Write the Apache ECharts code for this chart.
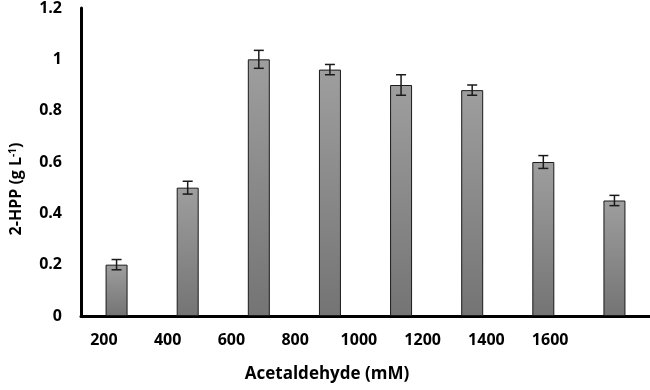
<!DOCTYPE html>
<html>
<head>
<meta charset="utf-8">
<script src="https://cdn.jsdelivr.net/npm/echarts@6/dist/echarts.min.js"></script>
<style>
  html, body { margin: 0; padding: 0; background: #fff; }
  #chart { width: 650px; height: 390px; }
</style>
</head>
<body>
<div id="chart"></div>
<script>
// Acetaldehyde concentrations (mM)
var categories = ['200', '400', '600', '800', '1000', '1200', '1400', '1600'];
// 2-HPP titre (g/L) and its error
var hppValues = [0.20, 0.50, 1.00, 0.96, 0.90, 0.88, 0.60, 0.45];
var hppErrors = [0.02, 0.025, 0.035, 0.02, 0.04, 0.02, 0.025, 0.02];
var yTicks = { min: 0, max: 1.2, interval: 0.2 };

var chartDom = document.getElementById('chart');
var myChart = echarts.init(chartDom);

var errorData = hppValues.map(function (v, i) {
    return [i, v - hppErrors[i], v + hppErrors[i]];
});

var FONT = "'Open Sans', 'DejaVu Sans', sans-serif";

function renderErrorBar(params, api) {
    var lo = api.coord([api.value(0), api.value(1)]);
    var hi = api.coord([api.value(0), api.value(2)]);
    var half = 5;
    var style = { stroke: '#1a1a1a', lineWidth: 1.5 };
    return {
        type: 'group',
        children: [
            { type: 'line', shape: { x1: hi[0], y1: hi[1], x2: lo[0], y2: lo[1] }, style: style },
            { type: 'line', shape: { x1: hi[0] - half, y1: hi[1], x2: hi[0] + half, y2: hi[1] }, style: style },
            { type: 'line', shape: { x1: lo[0] - half, y1: lo[1], x2: lo[0] + half, y2: lo[1] }, style: style }
        ]
    };
}

var option = {
    animation: false,
    backgroundColor: '#fff',
    grid: [
        { left: 80, right: 0, top: 4, bottom: 74 },
        // labels in the source sit on a slightly narrower band than the bars
        { left: 72, right: 68, top: 4, bottom: 74 }
    ],
    xAxis: [
        {
            type: 'category',
            gridIndex: 0,
            data: categories,
            axisLine: { lineStyle: { color: '#000', width: 3 } },
            axisTick: { show: false },
            axisLabel: { show: false }
        },
        {
            type: 'category',
            gridIndex: 1,
            data: categories,
            axisLine: { show: false },
            axisTick: { show: false },
            axisLabel: { margin: 16, color: '#000', fontFamily: FONT, fontWeight: 'bold', fontSize: 16 },
            name: 'Acetaldehyde (mM)',
            nameLocation: 'middle',
            nameGap: 50,
            nameTextStyle: { color: '#000', fontFamily: FONT, fontWeight: 'bold', fontSize: 17 }
        }
    ],
    yAxis: [
        {
            type: 'value',
            gridIndex: 0,
            min: yTicks.min,
            max: yTicks.max,
            interval: yTicks.interval,
            axisLine: { show: true, lineStyle: { color: '#000', width: 3 } },
            axisTick: { show: false },
            splitLine: { show: false },
            axisLabel: { margin: 19, color: '#000', fontFamily: FONT, fontWeight: 'bold', fontSize: 16 },
            name: '2-HPP (g L{sup|-1})',
            nameLocation: 'middle',
            nameGap: 57,
            nameTextStyle: {
                color: '#000', fontFamily: FONT, fontWeight: 'bold', fontSize: 16,
                padding: [0, 54, 0, 0],
                rich: {
                    sup: { fontFamily: FONT, fontWeight: 'bold', fontSize: 10, verticalAlign: 'top', color: '#000' }
                }
            }
        },
        {
            type: 'value',
            gridIndex: 1,
            show: false,
            min: yTicks.min,
            max: yTicks.max
        }
    ],
    series: [
        {
            name: '2-HPP',
            type: 'bar',
            xAxisIndex: 0,
            yAxisIndex: 0,
            data: hppValues,
            barWidth: 22,
            itemStyle: {
                color: new echarts.graphic.LinearGradient(0, 0, 0, 1, [
                    { offset: 0, color: '#9e9e9e' },
                    { offset: 1, color: '#747474' }
                ]),
                borderColor: '#1a1a1a',
                borderWidth: 1
            }
        },
        {
            name: 'error',
            type: 'custom',
            xAxisIndex: 0,
            yAxisIndex: 0,
            renderItem: renderErrorBar,
            encode: { x: 0, y: [1, 2] },
            data: errorData,
            z: 5
        }
    ]
};

myChart.setOption(option);
</script>
</body>
</html>
